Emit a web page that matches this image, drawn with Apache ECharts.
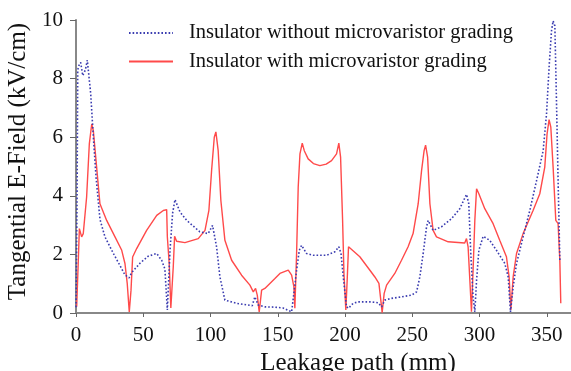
<!DOCTYPE html>
<html>
<head>
<meta charset="utf-8">
<script src="https://cdn.jsdelivr.net/npm/echarts@6/dist/echarts.min.js"></script>
<style>
  html, body { margin: 0; padding: 0; background: #fff; }
  #chart { width: 571px; height: 371px; }
</style>
</head>
<body>
<div id="chart"></div>
<script>
// insulator without microvaristor grading (dotted blue)
var plainX = [0, 0.8, 1.3, 2.2, 3.5, 5.0, 5.9, 7.0, 8.4, 10.9, 12.9, 14.9, 17.8, 21.5, 27.7, 32.7, 36.4, 39.5, 41.4, 47.6, 53.7, 60, 63.7, 66.1, 67.9, 69.9, 71.8, 73.6, 77.3, 82.3, 92.1, 98.3, 101.5, 104.5, 107, 110.7, 119.4, 131, 133, 135.5, 140.4, 147.9, 154, 160.3, 162, 164, 166, 167.7, 171.4, 176.4, 186.3, 192.5, 195.4, 197, 198.7, 201.1, 202.6, 206, 209.8, 218.5, 224.7, 227.2, 229.6, 234.6, 242, 249.5, 253.2, 255.6, 258.1, 260.6, 261.8, 265.5, 271.7, 279.2, 285.3, 290.3, 292, 293.5, 295.2, 296.5, 297.8, 299.5, 302.7, 307.6, 312.6, 318.8, 321.3, 323, 325, 327.5, 332.4, 337.4, 342.4, 347.3, 349.8, 351.7, 353.5, 354.7, 356, 357.2, 358.4, 359.7];
var plainY = [0.2, 4.0, 8.3, 8.45, 8.55, 8.1, 8.05, 8.3, 8.63, 7.5, 6.0, 4.64, 3.2, 2.6, 2.04, 1.62, 1.3, 1.2, 1.38, 1.7, 1.94, 2.03, 1.8, 1.5, 0.1, 2.14, 3.4, 3.87, 3.45, 3.16, 2.77, 2.71, 2.99, 2.26, 1.23, 0.44, 0.33, 0.25, 0.55, 0.27, 0.21, 0.2, 0.17, 0.04, 0.68, 1.46, 2.14, 2.31, 2.03, 1.97, 1.97, 2.09, 2.26, 2.03, 1.23, 0.21, 0.16, 0.33, 0.38, 0.38, 0.35, 0.21, 0.44, 0.5, 0.55, 0.61, 0.72, 1.23, 2.03, 2.94, 3.16, 2.82, 2.94, 3.22, 3.56, 4.05, 3.73, 2.03, 0.55, 0.04, 1.12, 2.14, 2.62, 2.48, 2.14, 1.69, 1.23, 0.04, 0.89, 1.69, 2.6, 3.5, 4.52, 5.54, 6.79, 8.38, 9.63, 9.97, 9.8, 7.24, 4.52, 1.8];

// insulator with microvaristor grading (solid red)
var gradedX = [0.5, 1.5, 2.5, 4.2, 5.4, 7.9, 9.9, 11.7, 12.9, 14.9, 17.8, 22.8, 29, 34, 36.4, 38.1, 39.6, 40.9, 42.1, 45.1, 52.5, 60, 64.9, 67.4, 67.9, 69.3, 70.5, 72.3, 73.3, 74.8, 81, 90.9, 95.9, 98.8, 100.8, 102.8, 104, 105.7, 107.7, 110.7, 115.7, 123.1, 129.3, 131.8, 133.5, 134.8, 136.2, 138, 140.4, 147.9, 151.6, 157.8, 160.3, 162, 162.7, 164, 165.2, 166.5, 168.2, 169.7, 172.6, 176.5, 181.3, 186, 190, 193.7, 195.4, 196.7, 198.2, 199.2, 200.6, 201.6, 202.6, 203.6, 211, 218.5, 222.2, 225.2, 226.6, 227.6, 229.1, 230.9, 237, 242, 246.9, 250.6, 254.4, 256.9, 258.8, 259.9, 261.4, 263.1, 265.5, 268, 276.7, 289, 290.3, 291.5, 292.8, 294, 295.2, 296.5, 297.8, 299.5, 303.9, 310.1, 315, 320, 322, 323.3, 325, 327.5, 332.4, 339.8, 344.8, 348.5, 350.2, 351.7, 353, 354.7, 356.7, 358.4, 359.7, 360.4];
var gradedY = [0.21, 1.5, 2.88, 2.6, 2.71, 3.96, 5.77, 6.45, 6.22, 5.2, 3.73, 3.16, 2.6, 2.14, 1.69, 1.0, 0.04, 0.78, 1.91, 2.2, 2.82, 3.33, 3.5, 3.53, 2.6, 1.69, 0.17, 1.57, 2.62, 2.45, 2.4, 2.54, 2.82, 3.5, 4.86, 6.0, 6.18, 5.54, 3.84, 2.48, 1.8, 1.29, 0.95, 0.72, 0.84, 0.6, 0.04, 0.78, 0.84, 1.18, 1.35, 1.46, 1.29, 0.89, 0.16, 2.03, 4.3, 5.43, 5.8, 5.54, 5.26, 5.1, 5.03, 5.08, 5.2, 5.43, 5.8, 5.32, 3.16, 1.35, 0.1, 1.12, 2.26, 2.31, 1.92, 1.46, 1.23, 1.01, 0.44, 0.01, 0.67, 0.95, 1.35, 1.8, 2.26, 2.71, 3.73, 4.86, 5.54, 5.73, 5.32, 3.73, 2.82, 2.6, 2.43, 2.39, 2.54, 2.26, 1.12, 0.04, 1.46, 3.16, 4.24, 4.07, 3.56, 3.05, 2.48, 1.92, 1.23, 0.1, 1.23, 2.03, 2.71, 3.5, 4.07, 4.98, 6.11, 6.6, 6.34, 4.98, 3.16, 3.05, 1.8, 0.33];

var xTicks = [0, 50, 100, 150, 200, 250, 300, 350];
var yTicks = [0, 2, 4, 6, 8, 10];

function zip (xs, ys) {
  return xs.map(function (x, i) { return [x, ys[i]] })
}

var serif = 'Liberation Serif'
var chart = echarts.init(document.getElementById('chart'))
var option = {
  animation: false,
  grid: { left: 76, right: 0, top: 20, bottom: 58, outerBoundsMode: 'none' },
  legend: {
    orient: 'vertical',
    left: 123,
    top: 17,
    itemWidth: 44,
    itemHeight: 14,
    itemGap: 6.5,
    itemStyle: { opacity: 0 },
    textStyle: { fontFamily: serif, fontSize: 20.5, color: '#111', lineHeight: 22, padding: [0, 0, 0, 11] }
  },
  xAxis: {
    type: 'value',
    min: 0,
    max: 368,
    interval: 50,
    name: 'Leakage path (mm)',
    nameLocation: 'middle',
    nameGap: 35,
    nameTextStyle: { fontFamily: serif, fontSize: 25, color: '#111', padding: [0, 0, 0, 69] },
    axisLine: { lineStyle: { color: '#888', width: 2 } },
    axisTick: { length: 4, lineStyle: { color: '#666' } },
    axisLabel: {
      margin: 12,
      fontFamily: serif,
      fontSize: 21,
      color: '#111',
      formatter: function (v) { return xTicks.indexOf(v) >= 0 ? String(v) : '' }
    },
    splitLine: { show: false }
  },
  yAxis: {
    type: 'value',
    min: 0,
    max: 10,
    interval: 2,
    name: 'Tangential E-Field (kV/cm)',
    nameLocation: 'middle',
    nameGap: 37,
    nameTextStyle: { fontFamily: serif, fontSize: 25, color: '#111', padding: [0, 0, 0, 10] },
    axisLine: { show: true, lineStyle: { color: '#888', width: 2 } },
    axisTick: { show: true, length: 6, lineStyle: { color: '#666' } },
    axisLabel: {
      margin: 13,
      fontFamily: serif,
      fontSize: 21,
      color: '#111',
      formatter: function (v) { return yTicks.indexOf(v) >= 0 ? String(v) : '' }
    },
    splitLine: { show: false }
  },
  series: [
    {
      name: 'Insulator without microvaristor grading',
      type: 'line',
      symbol: 'none',
      data: zip(plainX, plainY),
      lineStyle: { color: '#3a3cb0', width: 1.6, type: [1.6, 2] },
      itemStyle: { color: '#3a3cb0' },
      z: 3
    },
    {
      name: 'Insulator with microvaristor grading',
      type: 'line',
      symbol: 'none',
      data: zip(gradedX, gradedY),
      lineStyle: { color: '#ff4a4a', width: 1.4 },
      itemStyle: { color: '#ff4a4a' },
      z: 2
    }
  ]
}
option && chart.setOption(option)
</script>
</body>
</html>
